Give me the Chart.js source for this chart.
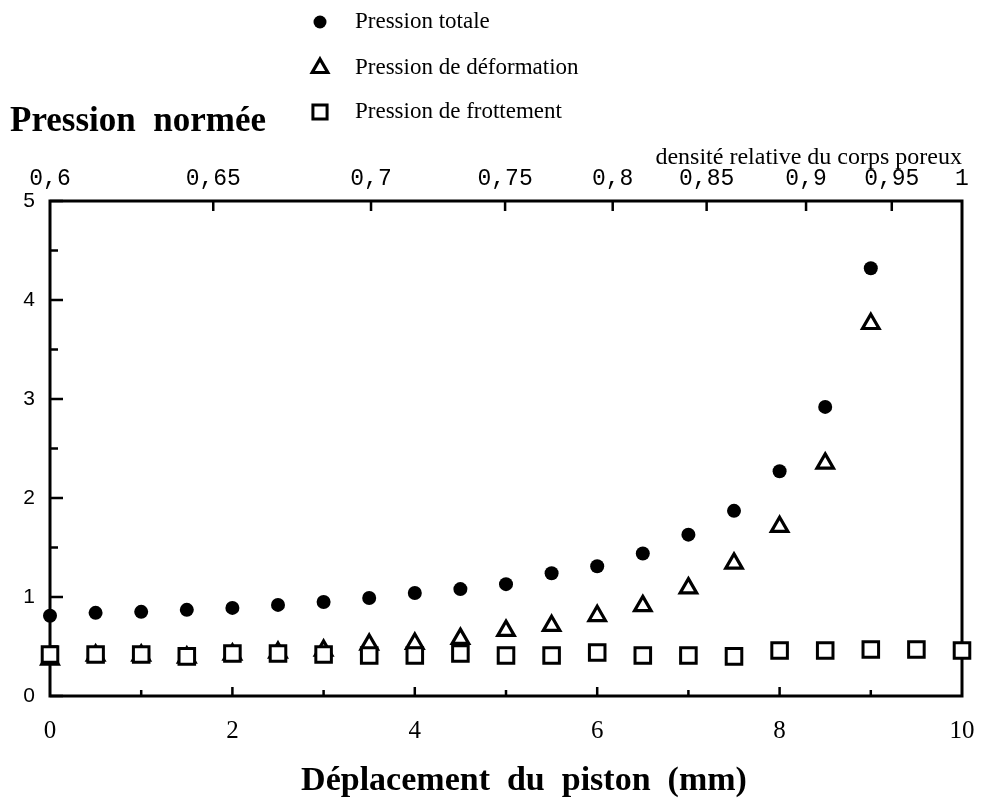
<!DOCTYPE html>
<html>
<head>
<meta charset="utf-8">
<script src="https://cdn.jsdelivr.net/npm/chart.js@4.4.0/dist/chart.umd.min.js"></script>
<style>
  html, body { margin: 0; padding: 0; background: #fff; }
</style>
</head>
<body>
<canvas id="pressChart" width="982" height="805"></canvas>
<script>
// piston displacement (mm)
const stepsTotal = [0, 0.5, 1, 1.5, 2, 2.5, 3, 3.5, 4, 4.5, 5, 5.5, 6, 6.5, 7, 7.5, 8, 8.5, 9];
const stepsFriction = [0, 0.5, 1, 1.5, 2, 2.5, 3, 3.5, 4, 4.5, 5, 5.5, 6, 6.5, 7, 7.5, 8, 8.5, 9, 9.5, 10];

// normalised pressures
const totalPressure = [0.81, 0.84, 0.85, 0.87, 0.89, 0.92, 0.95, 0.99, 1.04, 1.08, 1.13, 1.24, 1.31, 1.44, 1.63, 1.87, 2.27, 2.92, 4.32];
const deformPressure = [0.37, 0.41, 0.41, 0.39, 0.42, 0.44, 0.46, 0.52, 0.53, 0.58, 0.66, 0.71, 0.81, 0.91, 1.09, 1.34, 1.71, 2.35, 3.76];
const frictionPressure = [0.42, 0.42, 0.42, 0.40, 0.43, 0.43, 0.42, 0.41, 0.41, 0.43, 0.41, 0.41, 0.44, 0.41, 0.41, 0.40, 0.46, 0.46, 0.47, 0.47, 0.46];

// relative density of the porous body, set against the displacement
const densityLabels = ['0,6', '0,65', '0,7', '0,75', '0,8', '0,85', '0,9', '0,95', '1'];
const densityAt = [0, 1.79, 3.52, 4.99, 6.17, 7.2, 8.29, 9.23, 10];

const xTickValues = [0, 2, 4, 6, 8, 10];
const yTickValues = [0, 1, 2, 3, 4, 5];

const toPoints = (xs, ys) => xs.map((x, i) => ({ x: x, y: ys[i] }));

// frame around the plot and the short inward tick marks
const frameTicks = {
  id: 'frameTicks',
  beforeDatasetsDraw(chart) {
    const { ctx, chartArea: a, scales } = chart;
    ctx.save();
    ctx.strokeStyle = '#000';
    ctx.lineCap = 'butt';

    ctx.lineWidth = 2.5;
    ctx.beginPath();
    for (let v = 0; v <= 5; v += 0.5) {
      const y = scales.y.getPixelForValue(v);
      const len = Number.isInteger(v) ? 13 : 8;
      ctx.moveTo(a.left, y);
      ctx.lineTo(a.left + len, y);
    }
    for (let v = 1; v < 10; v++) {
      const x = scales.x.getPixelForValue(v);
      const len = v % 2 === 0 ? 9 : 6;
      ctx.moveTo(x, a.bottom);
      ctx.lineTo(x, a.bottom - len);
    }
    densityAt.slice(1, -1).forEach((v) => {
      const x = scales.dens.getPixelForValue(v);
      ctx.moveTo(x, a.top);
      ctx.lineTo(x, a.top + 10);
    });
    ctx.stroke();

    ctx.lineWidth = 3;
    ctx.strokeRect(a.left, a.top, a.right - a.left, a.bottom - a.top);
    ctx.restore();
  }
};

// free text and the marker key
const labelsAndKey = {
  id: 'labelsAndKey',
  afterDraw(chart) {
    const { ctx, chartArea: a } = chart;
    ctx.save();
    ctx.fillStyle = '#000';
    ctx.textBaseline = 'alphabetic';

    ctx.font = 'bold 35px "Liberation Serif"';
    ctx.textAlign = 'left';
    ctx.fillText('Pression  normée', 10, 131);

    ctx.font = 'bold 34px "Liberation Serif"';
    ctx.textAlign = 'center';
    ctx.fillText('Déplacement  du  piston  (mm)', (a.left + a.right) / 2 + 18, 790);

    const keyOrder = [0, 2, 1];
    const keySize = [6.5, 9, 10];
    const rows = [22, 68, 112];
    keyOrder.forEach((di, k) => {
      const ds = chart.data.datasets[di];
      ctx.fillStyle = ds.backgroundColor;
      ctx.strokeStyle = ds.borderColor;
      ctx.lineWidth = ds.borderWidth;
      Chart.helpers.drawPoint(ctx, {
        pointStyle: ds.pointStyle,
        radius: keySize[k],
        rotation: 0,
        borderWidth: ds.borderWidth
      }, 320, rows[k]);
      ctx.fillStyle = '#000';
      ctx.font = '23px "Liberation Serif"';
      ctx.textAlign = 'left';
      ctx.textBaseline = 'middle';
      ctx.fillText(ds.label, 355, rows[k]);
    });
    ctx.restore();
  }
};

// horizontal axes: fixed depth, no extra side room for the end labels
const fixHorizontal = (depth) => (s) => {
  s.height = depth;
  s.paddingLeft = 0;
  s.paddingRight = 0;
};

const ctx = document.getElementById('pressChart').getContext('2d');

new Chart(ctx, {
  type: 'scatter',
  data: {
    datasets: [
      {
        label: 'Pression totale',
        data: toPoints(stepsTotal, totalPressure),
        pointStyle: 'circle',
        pointRadius: 7,
        backgroundColor: '#000',
        borderColor: '#000',
        borderWidth: 0,
        order: 0,
        clip: false
      },
      {
        label: 'Pression de frottement',
        data: toPoints(stepsFriction, frictionPressure),
        pointStyle: 'rect',
        pointRadius: 11,
        backgroundColor: '#fff',
        borderColor: '#000',
        borderWidth: 3,
        order: 1,
        clip: false
      },
      {
        label: 'Pression de déformation',
        data: toPoints(stepsTotal, deformPressure),
        pointStyle: 'triangle',
        pointRadius: 9.5,
        backgroundColor: '#fff',
        borderColor: '#000',
        borderWidth: 3.2,
        order: 2,
        clip: false
      }
    ]
  },
  options: {
    responsive: false,
    animation: false,
    devicePixelRatio: 1,
    layout: {
      padding: { top: 140, right: 20, left: 0, bottom: 0 }
    },
    plugins: {
      legend: { display: false },
      tooltip: { enabled: false }
    },
    scales: {
      x: {
        type: 'linear',
        position: 'bottom',
        min: 0,
        max: 10,
        afterBuildTicks: (s) => { s.ticks = xTickValues.map((v) => ({ value: v })); },
        afterFit: fixHorizontal(109),
        grid: { display: false, drawTicks: false },
        border: { display: false },
        ticks: {
          autoSkip: false,
          maxRotation: 0,
          padding: 20,
          color: '#000',
          font: { family: 'Liberation Serif', size: 25 }
        }
      },
      dens: {
        type: 'linear',
        position: 'top',
        min: 0,
        max: 10,
        afterBuildTicks: (s) => { s.ticks = densityAt.map((v) => ({ value: v })); },
        afterFit: fixHorizontal(61),
        grid: { display: false, drawTicks: false },
        border: { display: false },
        title: {
          display: true,
          text: 'densité relative du corps poreux',
          align: 'end',
          color: '#000',
          padding: { top: 3, bottom: 0 },
          font: { family: 'Liberation Serif', size: 24 }
        },
        ticks: {
          autoSkip: false,
          maxRotation: 0,
          padding: 8,
          color: '#000',
          font: { family: 'Liberation Mono', size: 23 },
          callback: (v, i) => densityLabels[i]
        }
      },
      y: {
        type: 'linear',
        position: 'left',
        min: 0,
        max: 5,
        afterBuildTicks: (s) => { s.ticks = yTickValues.map((v) => ({ value: v })); },
        afterFit: (s) => { s.width = 50; },
        grid: { display: false, drawTicks: false },
        border: { display: false },
        ticks: {
          padding: 15,
          color: '#000',
          font: { family: 'Liberation Sans', size: 21 }
        }
      }
    }
  },
  plugins: [frameTicks, labelsAndKey]
});
</script>
</body>
</html>
